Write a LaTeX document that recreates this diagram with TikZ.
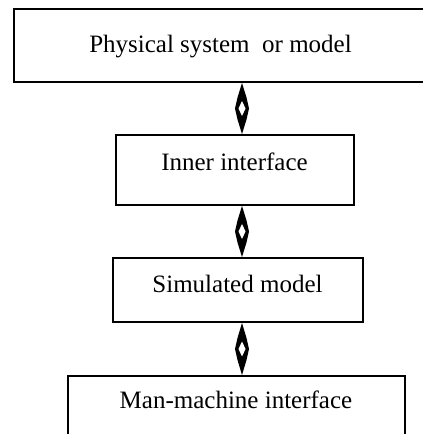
\documentclass[tikz,border=0pt]{standalone}
\usepackage{fontspec}
\setmainfont{Liberation Serif}
\usetikzlibrary{calc}

\begin{document}
\begin{tikzpicture}[
    x=1pt, y=-1pt,
    box/.style={rectangle, draw, line width=1.8pt, inner sep=0pt},
    lbl/.style={inner sep=0pt, anchor=base, font=\fontsize{25}{30}\selectfont}
]
    \useasboundingbox (0,0) rectangle (423,434);
    \clip (0,0) rectangle (423,434);

    % boxes
    \node[box, minimum width=416pt, minimum height=73pt] (phys) at (222,45.5) {};
    \node[box, minimum width=238pt, minimum height=70pt] (inner) at (235,170) {};
    \node[box, minimum width=250pt, minimum height=64pt] (sim) at (238,290) {};
    \node[box, minimum width=337pt, minimum height=85pt] (mmi) at (236.5,418.5) {};

    % labels
    \node[lbl] (phystxt) at (220.5,52) {Physical system\ \ or model};
    \node[lbl] (innertxt) at (234.5,170.5) {Inner interface};
    \node[lbl] (simtxt) at (237.5,292) {Simulated model};
    \node[lbl] (mmitxt) at (236,408.5) {Man-machine interface};

    % two-way links: long black rhombus with a hollow centre
    \coordinate (a1) at (242,0);
    \foreach \u/\v in {phys/inner, inner/sim, sim/mmi} {
        \coordinate (top) at (a1 |- \u.south);
        \coordinate (bot) at (a1 |- \v.north);
        \coordinate (mid) at ($(top)!0.5!(bot)$);
        \fill (top) -- ($(mid)+(4.5,-11)$) -- ($(mid)+(7,0)$) -- ($(mid)+(4.5,11)$)
            -- (bot) -- ($(mid)+(-4.5,11)$) -- ($(mid)+(-7,0)$) -- ($(mid)+(-4.5,-11)$) -- cycle;
        \fill[white] ($(mid)+(0,-7.5)$) -- ($(mid)+(3.5,0)$) -- ($(mid)+(0,7.5)$)
            -- ($(mid)+(-3.5,0)$) -- cycle;
    }
\end{tikzpicture}
\end{document}
